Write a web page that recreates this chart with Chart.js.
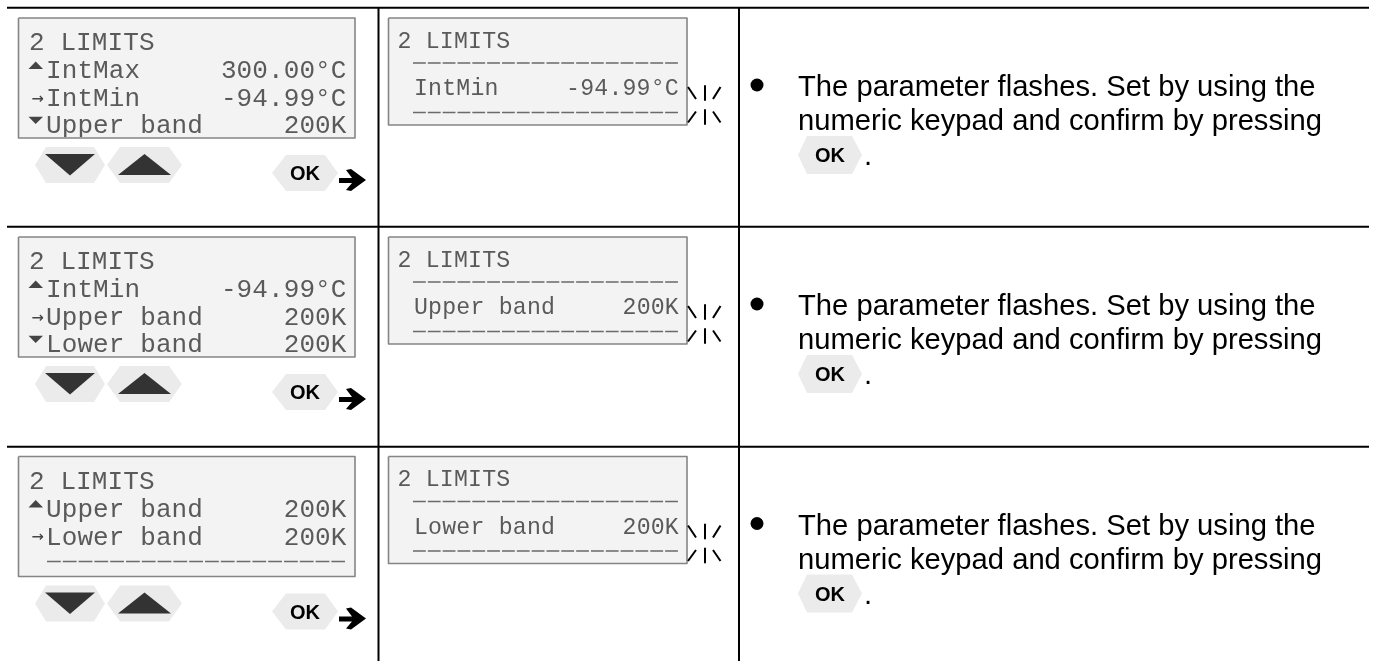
<!DOCTYPE html>
<html lang="en">
<head>
<meta charset="UTF-8">
<title>2 LIMITS</title>
<script src="https://cdn.jsdelivr.net/npm/chart.js"></script>
<style>
  body { margin: 0; background: #fff; }
  canvas { display: block; }
</style>
</head>
<body>
<canvas id="chart" width="1376" height="661"></canvas>
<script>
// the content of the three table rows
const lcdTitle = '2 LIMITS';
const listMarks = [['▲', '→', '▼'], ['▲', '→', '▼'], ['▲', '→', '']];
const listNames = [['IntMax', 'IntMin', 'Upper band'], ['IntMin', 'Upper band', 'Lower band'], ['Upper band', 'Lower band', '']];
const listValues = [['300.00°C', '-94.99°C', '200K'], ['-94.99°C', '200K', '200K'], ['200K', '200K', '']];
const editNames = ['IntMin', 'Upper band', 'Lower band'];
const editValues = ['-94.99°C', '200K', '200K'];
const noteLines = ['The parameter flashes. Set by using the', 'numeric keypad and confirm by pressing'];
const keyLabel = 'OK';

// page layout, the axes run in page pixels
const rowShift = [0, 219, 438.5];
const ruleY = [7.7, 226.7, 446.7];
const baseY = [78, 106, 133];

const datasets = [];
function shape(points, dy, opts) {
  datasets.push(Object.assign({
    data: points.map(p => ({ x: p[0], y: p[1] + dy })),
    pointRadius: 0, borderWidth: 0, tension: 0, borderJoinStyle: 'round'
  }, opts));
}
function line(points, dy, color, width, dash) {
  shape(points, dy, { borderColor: color, borderWidth: width, borderDash: dash || [], fill: false });
}
function solid(points, dy, color) {
  shape(points.concat([points[0]]), dy, { backgroundColor: color, borderColor: color, borderWidth: 0, fill: 'shape' });
}
function panel(x0, x1, y0, y1, dy) {
  shape([[x0, y0], [x1, y0], [x1, y1], [x0, y1], [x0, y0]], dy, {
    backgroundColor: '#f3f3f3', borderColor: '#858585', borderWidth: 1.6, fill: 'shape'
  });
}

const keyGrey = '#ebebeb';
const triDark = '#333333';
rowShift.forEach((dy, i) => {
  panel(18.5, 355, 18, 138, dy);
  panel(388.5, 687, 18, 125, dy);

  // small scroll marks in the first LCD column
  listMarks[i].forEach((m, k) => {
    if (m === '▲') solid([[28.5, baseY[k] - 9], [43, baseY[k] - 9], [35.7, baseY[k] - 16.5]], dy, '#444');
    if (m === '▼') solid([[28.5, baseY[k] - 16.3], [43, baseY[k] - 16.3], [35.7, baseY[k] - 9]], dy, '#444');
  });

  solid([[35, 165], [46, 147], [94, 147], [105, 165], [94, 183], [46, 183]], dy, keyGrey);
  solid([[107, 165], [120, 147], [169, 147], [182, 165], [169, 183], [120, 183]], dy, keyGrey);
  solid([[45, 154], [95, 154], [70, 175.5]], dy, triDark);
  solid([[118, 175], [171, 175], [144.5, 154]], dy, triDark);
  solid([[272, 173], [286, 155], [325, 155], [338, 173], [325, 191], [286, 191]], dy, keyGrey);
  solid([[339, 178], [352, 178], [346, 170], [351, 169], [366, 180], [351, 191], [346, 190], [352, 183], [339, 183]], dy, '#000');
  solid([[798, 155], [807, 136], [852, 136], [862, 155], [852, 174], [807, 174]], dy, keyGrey);

  // dashed lines on the LCDs
  line([[413, 63], [678, 63]], dy, '#6a6a6a', 1.5, [12.83, 2]);
  line([[413, 112.5], [678, 112.5]], dy, '#6a6a6a', 1.5, [12.83, 2]);
  if (i === 2) line([[47, 123], [345, 123]], dy, '#6a6a6a', 1.5, [13.8, 2]);

  // flashing marks
  line([[688, 87], [696, 99]], dy, '#000', 2);
  line([[705, 86], [705, 100]], dy, '#000', 2);
  line([[720.5, 87], [713, 99]], dy, '#000', 2);
  line([[696, 111.5], [688, 122.5]], dy, '#000', 2);
  line([[705, 110], [705, 124]], dy, '#000', 2);
  line([[713, 111.5], [720.5, 122.5]], dy, '#000', 2);

  datasets.push({ data: [{ x: 757, y: 85 + dy }], showLine: false, pointRadius: 6.5, borderWidth: 0, backgroundColor: '#000' });
});

// table rules
ruleY.forEach(y => line([[7, y], [1369, y]], 0, '#000', 2));
line([[378.5, 8], [378.5, 661]], 0, '#000', 2);
line([[739, 8], [739, 661]], 0, '#000', 2);

const textPlugin = {
  id: 'tableText',
  afterDatasetsDraw(chart) {
    const c = chart.ctx, sx = chart.scales.x, sy = chart.scales.y;
    const put = (s, x, y, font, color, spacing, align) => {
      c.font = font;
      c.fillStyle = color;
      c.letterSpacing = spacing || '0px';
      c.textAlign = align || 'left';
      c.textBaseline = 'alphabetic';
      c.fillText(s, sx.getPixelForValue(x), sy.getPixelForValue(y));
    };
    const lcdBig = '26px "Liberation Mono"', lcdSmall = '23.2px "Liberation Mono"', lcdColor = '#5a5a5a';
    const bigAdv = 15.7, smallAdv = 14.12;
    const body = '29.2px "Liberation Sans"', keyFont = 'bold 20px "Liberation Sans"';

    rowShift.forEach((dy, i) => {
      // keep the list text inside the LCD frame, the real display has no descenders
      c.save();
      c.beginPath();
      c.rect(sx.getPixelForValue(20), sy.getPixelForValue(20 + dy), 334, 117);
      c.clip();
      put(lcdTitle, 29, 50 + dy, lcdBig, lcdColor, '0.1px');
      listNames[i].forEach((name, k) => {
        if (listMarks[i][k] === '→') put('→', 37.5, baseY[k] + dy - 2.5, '20px "DejaVu Sans Mono"', '#444', '0px', 'center');
        put(name, 46, baseY[k] + dy, lcdBig, lcdColor, '0.1px');
        const v = listValues[i][k];
        put(v, 346.5 - v.length * bigAdv, baseY[k] + dy, lcdBig, lcdColor, '0.1px');
      });
      c.restore();

      put(lcdTitle, 397.5, 47.5 + dy, lcdSmall, lcdColor, '0.2px');
      put(editNames[i], 414, 95 + dy, lcdSmall, lcdColor, '0.2px');
      put(editValues[i], 679 - editValues[i].length * smallAdv, 95 + dy, lcdSmall, lcdColor, '0.2px');

      put(keyLabel, 305, 180 + dy, keyFont, '#000', '0px', 'center');
      put(keyLabel, 830, 162 + dy, keyFont, '#000', '0px', 'center');
      put(noteLines[0], 798, 96 + dy, body, '#000');
      put(noteLines[1], 798, 130 + dy, body, '#000');
      put('.', 864, 165 + dy, body, '#000');
    });
  }
};

new Chart(document.getElementById('chart'), {
  type: 'line',
  data: { datasets: datasets.reverse() },
  plugins: [textPlugin],
  options: {
    responsive: false,
    animation: false,
    events: [],
    layout: { padding: 0, autoPadding: false },
    plugins: { legend: { display: false }, tooltip: { enabled: false }, title: { display: false } },
    scales: {
      x: { type: 'linear', min: 0, max: 1376, display: false },
      y: { type: 'linear', min: 0, max: 661, reverse: true, display: false }
    }
  }
});
</script>
</body>
</html>
